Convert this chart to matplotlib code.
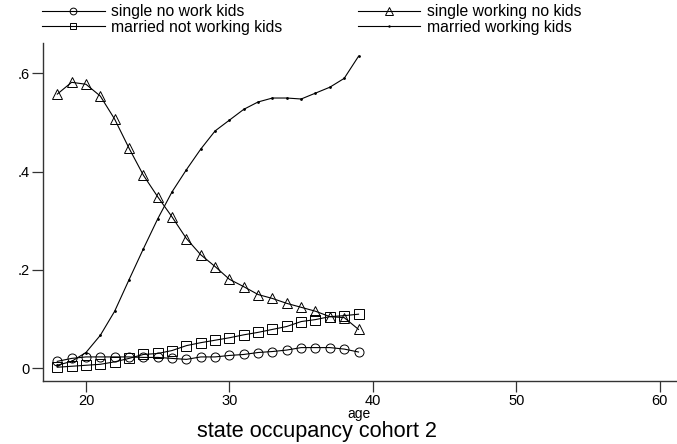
import matplotlib
matplotlib.use("Agg")
import matplotlib.pyplot as plt
import numpy as np

plt.rcParams['font.family'] = ['Liberation Sans', 'DejaVu Sans']

ages = np.arange(18, 40)

single_no_work = [0.014, 0.020, 0.023, 0.023, 0.023, 0.023, 0.022, 0.022, 0.020, 0.018, 0.023,
                  0.023, 0.026, 0.028, 0.032, 0.034, 0.037, 0.042, 0.042, 0.042, 0.039, 0.033]
single_working = [0.558, 0.582, 0.578, 0.554, 0.507, 0.448, 0.393, 0.349, 0.308, 0.264, 0.231,
                  0.207, 0.181, 0.166, 0.150, 0.142, 0.132, 0.124, 0.116, 0.105, 0.103, 0.079]
married_not_working = [0.002, 0.004, 0.006, 0.008, 0.013, 0.020, 0.028, 0.030, 0.036, 0.046, 0.052,
                       0.057, 0.062, 0.068, 0.073, 0.079, 0.085, 0.095, 0.099, 0.105, 0.107, 0.110]
married_working = [0.006, 0.014, 0.032, 0.067, 0.116, 0.180, 0.243, 0.304, 0.359, 0.404, 0.446,
                   0.483, 0.505, 0.527, 0.542, 0.550, 0.550, 0.548, 0.560, 0.572, 0.590, 0.635]

xticks = [20, 30, 40, 50, 60]
yticks = [0, 0.2, 0.4, 0.6]
ytick_labels = ['0', '.2', '.4', '.6']

fig = plt.figure(figsize=(6.77, 4.44), dpi=100)
ax = fig.add_axes([42.5 / 677, 1 - 381 / 444, 1 - 42.5 / 677, (381 - 43) / 444])

lw = 0.8
l1, = ax.plot(ages, single_no_work, color='black', lw=lw, marker='o', ms=6.5,
              mfc='none', mec='black', mew=0.7)
l2, = ax.plot(ages, single_working, color='black', lw=lw, marker='^', ms=7.5,
              mfc='none', mec='black', mew=0.7)
l3, = ax.plot(ages, married_not_working, color='black', lw=lw, marker='s', ms=6.5,
              mfc='none', mec='black', mew=0.7)
l4, = ax.plot(ages, married_working, color='black', lw=lw, marker='.', ms=2)

ax.set_xlim(16.97, 61.2)
ax.set_ylim(-0.026, 0.662)
ax.set_xticks(xticks)
ax.set_yticks(yticks)
ax.set_yticklabels(ytick_labels)

for s in ['top', 'right']:
    ax.spines[s].set_visible(False)
for s in ['left', 'bottom']:
    ax.spines[s].set_linewidth(1.0)
    ax.spines[s].set_color('#333333')
ax.tick_params(direction='out', length=8, width=0.9, labelsize=10.5, pad=1.5, color='#333333')

fig.text(359 / 677, 1 - 414 / 444, 'age', ha='center', va='center', fontsize=10)
fig.text(317 / 677, 1 - 431 / 444, 'state occupancy cohort 2', ha='center', va='center', fontsize=15.6)

fig.legend([l1, l3, l2, l4],
           ['single no work kids', 'married not working kids',
            'single working no kids', 'married working kids'],
           ncol=2, loc='upper left', bbox_to_anchor=(42 / 677, 1 - 4 / 444),
           frameon=False, fontsize=11.3, handlelength=4.0, handletextpad=0.4,
           columnspacing=4.8, labelspacing=0.05, borderpad=0, borderaxespad=0,
           markerscale=0.75)

fig.savefig('out.png', dpi=100)
